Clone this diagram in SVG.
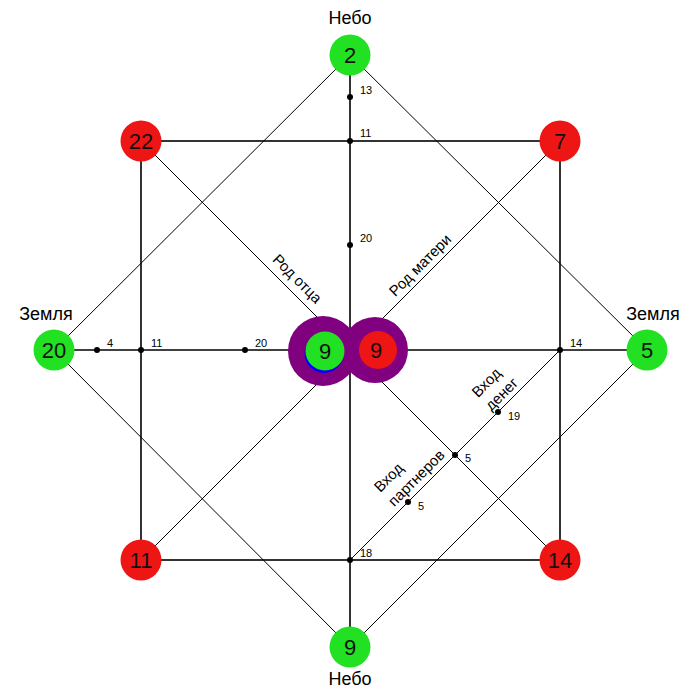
<svg xmlns="http://www.w3.org/2000/svg" width="700" height="700" viewBox="0 0 700 700">
<style>
.thin{stroke:#000;stroke-width:1;fill:none}
.thick{stroke:#000;stroke-width:1.6;fill:none}
.g{fill:#22e022}
.r{fill:#ee1515}
.num{font-family:"Liberation Sans",Arial,sans-serif;font-size:22px;fill:#111;text-anchor:middle}
.lbl{font-family:"Liberation Sans",Arial,sans-serif;font-size:18px;fill:#000;text-anchor:middle}
.rot{font-family:"Liberation Sans",Arial,sans-serif;font-size:15px;fill:#000}
.sm{font-family:"Liberation Sans",Arial,sans-serif;font-size:11px;fill:#000}
.dot{fill:#000}
</style>
<rect width="700" height="700" fill="#fff"/>
<g id="connectors">
<polygon class="thin" points="350,55 647,350 350,647 54,350"/>
<line class="thin" x1="141" y1="141" x2="560" y2="560"/>
<line class="thin" x1="560" y1="141" x2="141" y2="560"/>
<line class="thin" x1="560" y1="350" x2="350" y2="560"/>
<rect class="thick" x="141" y="141" width="419" height="419"/>
<line class="thick" x1="350" y1="55" x2="350" y2="647"/>
<line class="thick" x1="54" y1="350" x2="647" y2="350"/>
</g>
<g id="points">
<circle class="dot" cx="350" cy="97" r="3"/><text class="sm" x="360" y="94">13</text>
<circle class="dot" cx="350" cy="141" r="3"/><text class="sm" x="360" y="137">11</text>
<circle class="dot" cx="350" cy="245" r="3"/><text class="sm" x="360" y="242">20</text>
<circle class="dot" cx="350" cy="560" r="3"/><text class="sm" x="360" y="557">18</text>
<circle class="dot" cx="97" cy="350" r="3"/><text class="sm" x="107" y="347">4</text>
<circle class="dot" cx="141" cy="350" r="3"/><text class="sm" x="151" y="347">11</text>
<circle class="dot" cx="245" cy="350" r="3"/><text class="sm" x="255" y="347">20</text>
<circle class="dot" cx="560" cy="350" r="3"/><text class="sm" x="570" y="347">14</text>
<circle class="dot" cx="498" cy="412" r="3"/><text class="sm" x="508" y="420">19</text>
<circle class="dot" cx="455" cy="455" r="3"/><text class="sm" x="465" y="462">5</text>
<circle class="dot" cx="408" cy="502" r="3"/><text class="sm" x="418" y="510">5</text>
</g>
<g id="labels">
<text class="lbl" x="350" y="24">Небо</text>
<text class="lbl" x="350" y="685">Небо</text>
<text class="lbl" x="46" y="320">Земля</text>
<text class="lbl" x="653" y="320">Земля</text>
<text class="rot" transform="translate(288,288) rotate(45)" x="0" y="-8" text-anchor="middle">Род отца</text>
<text class="rot" transform="translate(428,273) rotate(-45)" x="0" y="-6" text-anchor="middle">Род матери</text>
<text class="rot" transform="translate(509,401) rotate(-45)"><tspan x="-20" y="-24">Вход</tspan><tspan x="-20" y="-5">денег</tspan></text>
<text class="rot" transform="translate(424,486) rotate(-45)"><tspan x="-36" y="-26">Вход</tspan><tspan x="-36" y="-6">партнеров</tspan></text>
</g>
<g id="n-top"><circle class="g" cx="350" cy="55" r="20.5"/><text class="num" x="350" y="63">2</text></g>
<g id="n-bottom"><circle class="g" cx="350" cy="647" r="20.5"/><text class="num" x="350" y="655">9</text></g>
<g id="n-left"><circle class="g" cx="54" cy="350" r="20.5"/><text class="num" x="54" y="358">20</text></g>
<g id="n-right"><circle class="g" cx="647" cy="350" r="20.5"/><text class="num" x="647" y="358">5</text></g>
<g id="n-tl"><circle class="r" cx="141" cy="141" r="20.5"/><text class="num" x="141" y="149">22</text></g>
<g id="n-tr"><circle class="r" cx="560" cy="141" r="20.5"/><text class="num" x="560" y="149">7</text></g>
<g id="n-bl"><circle class="r" cx="141" cy="560" r="20.5"/><text class="num" x="141" y="568">11</text></g>
<g id="n-br"><circle class="r" cx="560" cy="560" r="20.5"/><text class="num" x="560" y="568">14</text></g>
<g id="n-mother"><circle cx="375" cy="350" r="33" fill="#800080"/><circle class="r" cx="378" cy="350" r="19"/><text class="num" x="376" y="358">9</text></g>
<g id="n-father"><circle cx="323" cy="351" r="35" fill="#800080"/><circle cx="324" cy="353.5" r="19.5" fill="#0000ff"/><circle class="g" cx="325" cy="351" r="19.5"/><text class="num" x="325" y="359">9</text></g>
</svg>
